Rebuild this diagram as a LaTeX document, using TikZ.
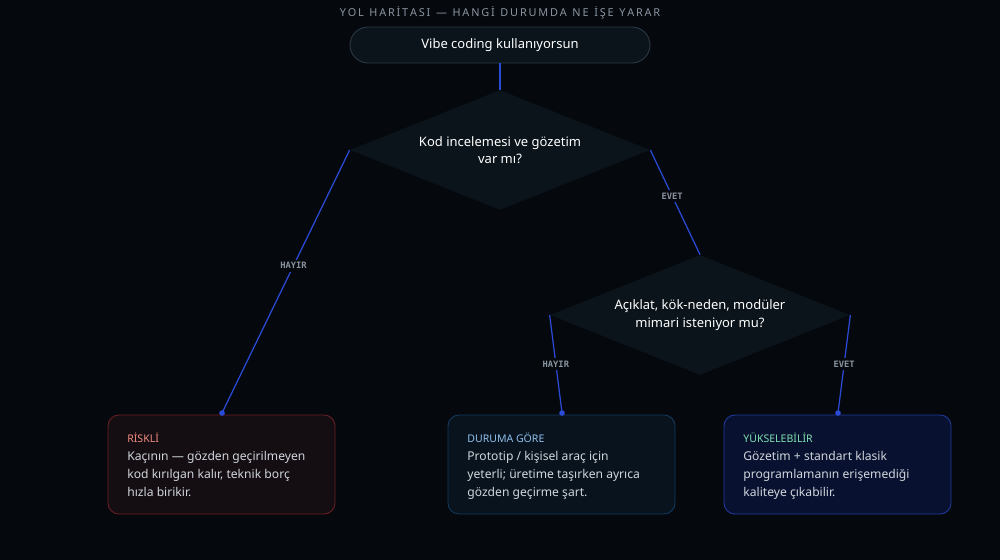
\documentclass[tikz,border=0pt]{standalone}
\usepackage{fontspec}
\setmainfont{Noto Sans}
\setmonofont{DejaVu Sans Mono}
\usetikzlibrary{shapes.geometric}
\definecolor{bgcol}{HTML}{05080D}
\definecolor{nodefill}{HTML}{0B141B}
\definecolor{nodeline}{HTML}{2C3A45}
\definecolor{linkcol}{HTML}{2A4BD7}
\definecolor{labcol}{HTML}{8A94A0}
\definecolor{redfill}{HTML}{140D12}
\definecolor{redline}{HTML}{6B1F25}
\definecolor{redtxt}{HTML}{F08A7E}
\definecolor{bluefill}{HTML}{08131D}
\definecolor{blueline}{HTML}{123A5F}
\definecolor{bluetxt}{HTML}{8FC0EE}
\definecolor{greenfill}{HTML}{091130}
\definecolor{greenline}{HTML}{1F3A9C}
\definecolor{greentxt}{HTML}{7EE0B0}
\definecolor{bodytxt}{HTML}{D0D6DC}

\tikzset{
  decision/.style={diamond, aspect=2.5, fill=nodefill, draw=none, inner sep=0pt,
    minimum width=300*0.02cm, minimum height=120*0.02cm, text=white,
    align=center, font=\fontsize{7.4}{10}\selectfont\bfseries},
  start/.style={rectangle, rounded corners=0.36cm, fill=nodefill, draw=nodeline,
    line width=0.5pt, minimum width=300*0.02cm, minimum height=36*0.02cm,
    text=white, font=\fontsize{7.4}{9}\selectfont\bfseries},
  link/.style={draw=linkcol, line width=0.7pt},
  tag/.style={fill=bgcol, text=labcol, inner sep=1.5pt, font=\ttfamily\fontsize{5}{6}\selectfont\bfseries},
  card/.style={rectangle, rounded corners=0.22cm, line width=0.5pt,
    minimum width=227*0.02cm, minimum height=99*0.02cm},
  dot/.style={circle, fill=linkcol, inner sep=0pt, minimum size=3.2pt},
  cardhead/.style={anchor=north west, inner sep=0pt, font=\fontsize{6}{7}\selectfont\bfseries},
  cardbody/.style={anchor=north west, inner sep=0pt, text=bodytxt, align=left,
    font=\fontsize{6.9}{10.2}\selectfont}
}

\begin{document}
\begin{tikzpicture}[x=0.02cm, y=-0.02cm]
\fill[bgcol] (0,0) rectangle (1000,560);
\useasboundingbox (0,0) rectangle (1000,560);

\node[text=labcol, font=\fontsize{6.2}{7}\selectfont\bfseries] (title) at (500,13)
  {Y\,O\,L\ \ H\,A\,R\,İ\,T\,A\,S\,I\ \ —\ \ H\,A\,N\,G\,İ\ \ D\,U\,R\,U\,M\,D\,A\ \ N\,E\ \ İ\,Ş\,E\ \ Y\,A\,R\,A\,R};

\node[start] (begin) at (500,45) {Vibe coding kullanıyorsun};
\node[decision] (review) at (500,150) {Kod incelemesi ve gözetim\\var mı?};
\node[decision] (arch) at (700,315) {Açıklat, kök-neden, modüler\\mimari isteniyor mu?};

% cards
\node[card, fill=redfill, draw=redline] (risky) at (221.5,464.5) {};
\node[card, fill=bluefill, draw=blueline] (depends) at (561.5,464.5) {};
\node[card, fill=greenfill, draw=greenline] (scalable) at (837.5,464.5) {};

\node[cardhead, text=redtxt] (riskyhead) at (127,433) {RİSKLİ};
\node[cardbody] (riskybody) at (127,451) {Kaçının — gözden geçirilmeyen\\kod kırılgan kalır, teknik borç\\hızla birikir.};
\node[cardhead, text=bluetxt] (dephead) at (467,433) {DURUMA GÖRE};
\node[cardbody] (depbody) at (467,451) {Prototip / kişisel araç için\\yeterli; üretime taşırken ayrıca\\gözden geçirme şart.};
\node[cardhead, text=greentxt] (scalhead) at (743,433) {YÜKSELEBİLİR};
\node[cardbody] (scalbody) at (743,451) {Gözetim + standart klasik\\programlamanın erişemediği\\kaliteye çıkabilir.};

% connectors
\node[dot] (d1) at (222,413) {};
\node[dot] (d2) at (562,413) {};
\node[dot] (d3) at (838,413) {};
\draw[link] (begin.south) -- (review.north);
\draw[link] (review.west) -- node[tag, pos=0.44] {HAYIR} (d1.center);
\draw[link] (review.east) -- node[tag, pos=0.44] {EVET} (arch.north);
\draw[link] (arch.west) -- node[tag, pos=0.5] {HAYIR} (d2.center);
\draw[link] (arch.east) -- node[tag, pos=0.5] {EVET} (d3.center);
\end{tikzpicture}
\end{document}
